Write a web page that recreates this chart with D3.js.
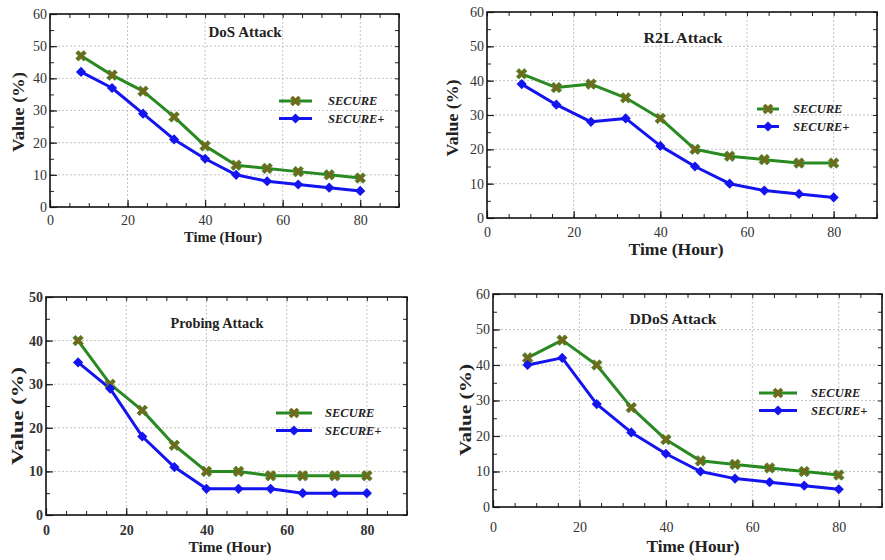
<!DOCTYPE html>
<html>
<head>
<meta charset="utf-8">
<script src="https://cdn.jsdelivr.net/npm/d3@7"></script>
<style>
  html, body { margin: 0; padding: 0; background: #fff; }
  svg { display: block; }
  text { font-family: "Liberation Serif", "Times New Roman", serif; }
</style>
</head>
<body>
<svg id="chart" width="885" height="560"></svg>
<script>
// ---------- data ----------
const hours = [8, 16, 24, 32, 40, 48, 56, 64, 72, 80];
const seriesNames = ["SECURE", "SECURE+"];
const panelTitles = ["DoS Attack", "R2L Attack", "Probing Attack", "DDoS Attack"];

const dosSecure      = [47, 41, 36, 28, 19, 13, 12, 11, 10, 9];
const dosSecurePlus  = [42, 37, 29, 21, 15, 10, 8, 7, 6, 5];
const r2lSecure      = [42, 38, 39, 35, 29, 20, 18, 17, 16, 16];
const r2lSecurePlus  = [39, 33, 28, 29, 21, 15, 10, 8, 7, 6];
const probeSecure    = [40, 30, 24, 16, 10, 10, 9, 9, 9, 9];
const probeSecurePlus= [35, 29, 18, 11, 6, 6, 6, 5, 5, 5];
const ddosSecure     = [42, 47, 40, 28, 19, 13, 12, 11, 10, 9];
const ddosSecurePlus = [40, 42, 29, 21, 15, 10, 8, 7, 6, 5];

const xTicks = [0, 20, 40, 60, 80];
const yTicks60 = [0, 10, 20, 30, 40, 50, 60];
const yTicks50 = [0, 10, 20, 30, 40, 50];
const xLabel = "Time (Hour)";
const yLabel = "Value (%)";

// ---------- layout (positions only) ----------
const panels = [
  { title: panelTitles[0], s: dosSecure, sp: dosSecurePlus, yMax: 60, yTicks: yTicks60,
    L: 50, R: 399, T: 14, B: 207, titleX: 245, titleY: 37, titleW: 73, titleFs: 14.8,
    legX: 279, legW: 33, legY: 101, legTextX: 328,
    ylabX: 18, ylabY: 112, ylabW: 80, ylabFs: 16,
    xtickY: 222, xlabX: 223, xlabY: 242, xlabW: 78, xlabFs: 14.5, boldTicks: false },
  { title: panelTitles[1], s: r2lSecure, sp: r2lSecurePlus, yMax: 60, yTicks: yTicks60,
    L: 487, R: 877, T: 12, B: 218, titleX: 683, titleY: 43, titleW: 79, titleFs: 15.6,
    legX: 757, legW: 22, legY: 109, legTextX: 793,
    ylabX: 452, ylabY: 118, ylabW: 77, ylabFs: 16,
    xtickY: 234, xlabX: 676, xlabY: 255, xlabW: 95, xlabFs: 16.5, boldTicks: false },
  { title: panelTitles[2], s: probeSecure, sp: probeSecurePlus, yMax: 50, yTicks: yTicks50,
    L: 46, R: 407, T: 297, B: 515, titleX: 217, titleY: 328, titleW: 93, titleFs: 14.5,
    legX: 276, legW: 36, legY: 413, legTextX: 325,
    ylabX: 17, ylabY: 416, ylabW: 98, ylabFs: 17,
    xtickY: 532, xlabX: 230, xlabY: 552, xlabW: 83, xlabFs: 15.5, boldTicks: true },
  { title: panelTitles[3], s: ddosSecure, sp: ddosSecurePlus, yMax: 60, yTicks: yTicks60,
    L: 493, R: 882, T: 294, B: 507, titleX: 673, titleY: 324, titleW: 87, titleFs: 15.4,
    legX: 759, legW: 38, legY: 393, legTextX: 811,
    ylabX: 465, ylabY: 410, ylabW: 92, ylabFs: 17,
    xtickY: 529, xlabX: 693, xlabY: 552, xlabW: 93, xlabFs: 16.5, boldTicks: false }
];

const green = "#2a8a22";
const olive = "#6f6a1c";
const blue = "#1414ee";
const serif = '"Liberation Serif", "Times New Roman", serif';

const svg = d3.select("#chart");

panels.forEach(p => {
  const x = d3.scaleLinear().domain([0, 90]).range([p.L, p.R]);
  const y = d3.scaleLinear().domain([0, p.yMax]).range([p.B, p.T]);
  const g = svg.append("g");

  // gridlines
  const gridX = xTicks.filter(v => v > 0);
  const gridY = p.yTicks.filter(v => v > 0 && v < p.yMax);
  g.selectAll(".gx").data(gridX).join("line")
    .attr("x1", d => x(d)).attr("x2", d => x(d))
    .attr("y1", p.T).attr("y2", p.B)
    .attr("stroke", "#c4c4c4").attr("stroke-width", 1).attr("stroke-dasharray", "2,2");
  g.selectAll(".gy").data(gridY).join("line")
    .attr("y1", d => y(d)).attr("y2", d => y(d))
    .attr("x1", p.L).attr("x2", p.R)
    .attr("stroke", "#c4c4c4").attr("stroke-width", 1).attr("stroke-dasharray", "2,2");

  // axes (ticks inside, minor every 5)
  const xMinor = d3.range(0, 91, 5);
  const yMinor = d3.range(0, p.yMax + 1, 5);
  const tickFont = p.boldTicks ? "bold" : "normal";

  const bottom = g.append("g").attr("transform", `translate(0,${p.B})`)
    .call(d3.axisBottom(x).tickValues(xMinor).tickSize(-4).tickFormat(""));
  const top = g.append("g").attr("transform", `translate(0,${p.T})`)
    .call(d3.axisTop(x).tickValues(xMinor).tickSize(-4).tickFormat(""));
  const left = g.append("g").attr("transform", `translate(${p.L},0)`)
    .call(d3.axisLeft(y).tickValues(yMinor).tickSize(-4).tickFormat(""));
  const right = g.append("g").attr("transform", `translate(${p.R},0)`)
    .call(d3.axisRight(y).tickValues(yMinor).tickSize(-4).tickFormat(""));
  [bottom, top, left, right].forEach(a => {
    a.select(".domain").remove();
    a.selectAll("line").attr("stroke", "#222").attr("stroke-width", 1);
  });
  // major ticks longer
  g.append("g").attr("transform", `translate(0,${p.B})`)
    .call(d3.axisBottom(x).tickValues(xTicks).tickSize(-7).tickPadding(10))
    .call(a => { a.attr("font-family", serif); a.select(".domain").remove();
      a.selectAll("line").attr("stroke", "#222").attr("stroke-width", 1.2);
      a.selectAll("text").attr("font-size", 14).attr("font-weight", tickFont)
        .attr("font-family", serif)
        .attr("fill", "#333").attr("y", null).attr("dy", null)
        .attr("transform", `translate(0,${p.xtickY - p.B})`).attr("dominant-baseline", "middle"); });
  g.append("g").attr("transform", `translate(${p.L},0)`)
    .call(d3.axisLeft(y).tickValues(p.yTicks).tickSize(-7).tickPadding(3))
    .call(a => { a.attr("font-family", serif); a.select(".domain").remove();
      a.selectAll("line").attr("stroke", "#222").attr("stroke-width", 1.2);
      a.selectAll("text").attr("font-size", 14).attr("font-weight", tickFont)
        .attr("font-family", serif).attr("fill", "#333"); });

  // frame
  g.append("rect").attr("x", p.L).attr("y", p.T)
    .attr("width", p.R - p.L).attr("height", p.B - p.T)
    .attr("fill", "none").attr("stroke", "#111").attr("stroke-width", 1.6);

  // lines
  const line = d3.line().x((d, i) => x(hours[i])).y(d => y(d));
  const sets = [
    { vals: p.s, color: green },
    { vals: p.sp, color: blue }
  ];
  sets.forEach(s => {
    g.append("path").datum(s.vals).attr("d", line)
      .attr("fill", "none").attr("stroke", s.color).attr("stroke-width", 3)
      .attr("stroke-linejoin", "round");
  });
  // markers
  const crossPath = d3.symbol().type(d3.symbolCross).size(70)();
  const diamondPath = d3.symbol().type(d3.symbolSquare).size(52)();
  g.selectAll(".ms").data(p.s).join("path")
    .attr("d", crossPath)
    .attr("transform", (d, i) => `translate(${x(hours[i])},${y(d)}) rotate(45)`)
    .attr("fill", olive).attr("stroke", green).attr("stroke-width", 0.6);
  g.selectAll(".mp").data(p.sp).join("path")
    .attr("d", diamondPath)
    .attr("transform", (d, i) => `translate(${x(hours[i])},${y(d)}) rotate(45)`)
    .attr("fill", blue);

  // title
  g.append("text").attr("x", p.titleX).attr("y", p.titleY)
    .attr("text-anchor", "middle").attr("font-size", p.titleFs).attr("font-weight", "bold")
    .attr("textLength", p.titleW).attr("lengthAdjust", "spacingAndGlyphs")
    .attr("fill", "#222").text(p.title);

  // legend
  const legItems = [
    { name: seriesNames[0], color: green, marker: crossPath, fill: olive },
    { name: seriesNames[1], color: blue, marker: diamondPath, fill: blue }
  ];
  legItems.forEach((it, k) => {
    const ly = p.legY + k * 17.5;
    g.append("line").attr("x1", p.legX).attr("x2", p.legX + p.legW)
      .attr("y1", ly).attr("y2", ly).attr("stroke", it.color).attr("stroke-width", 3);
    g.append("path").attr("d", it.marker)
      .attr("transform", `translate(${p.legX + p.legW / 2},${ly}) rotate(45)`)
      .attr("fill", it.fill);
    g.append("text").attr("x", p.legTextX).attr("y", ly).attr("dy", "0.35em")
      .attr("font-size", 12.5).attr("font-style", "italic").attr("font-weight", "bold")
      .attr("fill", "#222").text(it.name);
  });

  // axis labels
  g.append("text").attr("x", p.xlabX).attr("y", p.xlabY)
    .attr("text-anchor", "middle").attr("font-size", p.xlabFs).attr("font-weight", "bold")
    .attr("textLength", p.xlabW).attr("lengthAdjust", "spacingAndGlyphs")
    .attr("fill", "#222").text(xLabel);
  g.append("text")
    .attr("transform", `translate(${p.ylabX},${p.ylabY}) rotate(-90)`)
    .attr("text-anchor", "middle").attr("dy", "0.35em")
    .attr("font-size", p.ylabFs).attr("font-weight", "bold")
    .attr("textLength", p.ylabW).attr("lengthAdjust", "spacingAndGlyphs")
    .attr("fill", "#222").text(yLabel);
});
</script>
</body>
</html>
